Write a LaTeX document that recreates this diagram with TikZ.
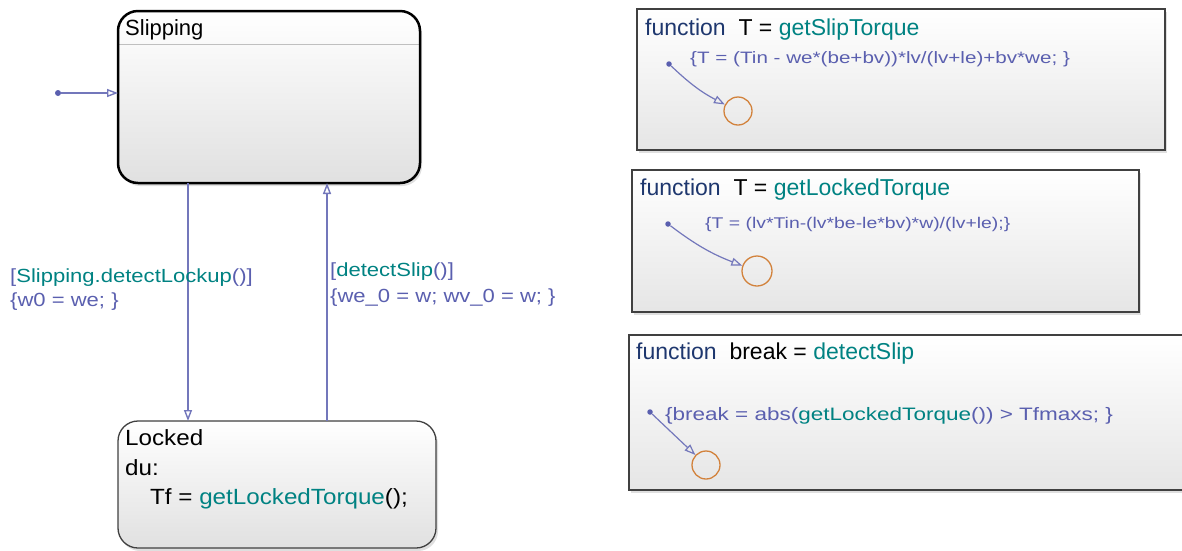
\documentclass[tikz,border=0pt]{standalone}
\usepackage{fontspec}
\setmainfont{Liberation Sans}
\newfontfamily\wideA[FakeStretch=1.1]{Liberation Sans}
\newfontfamily\wideB[FakeStretch=1.16]{Liberation Sans}
\newfontfamily\wideC[FakeStretch=1.25]{Liberation Sans}
\usetikzlibrary{arrows.meta,shadows}
\definecolor{sfblue}{RGB}{90,95,175}
\definecolor{sfteal}{RGB}{0,130,130}
\definecolor{sfdark}{RGB}{30,55,110}
\definecolor{sforange}{RGB}{210,130,60}
\tikzset{
  statebox/.style={rounded corners=20pt, top color=white, bottom color=black!12, drop shadow={opacity=0.25,shadow xshift=2pt,shadow yshift=-3pt}},
  funcbox/.style={draw=black!75, line width=1.3pt, top color=white, bottom color=black!10, drop shadow={opacity=0.25,shadow xshift=2pt,shadow yshift=-3pt}},
  trans/.style={draw=sfblue!85, line width=1.4pt, -{Triangle[open,length=11pt,width=8pt]}},
  junc/.style={circle, draw=sforange, line width=1.3pt, minimum size=28pt, inner sep=0pt},
  dotn/.style={circle, fill=sfblue, inner sep=0pt, minimum size=6pt},
  lbl/.style={anchor=base west, inner sep=0pt, font=\wideB\fontsize{19}{21}\selectfont, text=sfblue},
  ttl/.style={anchor=base west, inner sep=0pt, font=\fontsize{23}{25}\selectfont},
  stt/.style={anchor=base west, inner sep=0pt, font=\wideA\fontsize{22}{24}\selectfont},
  act/.style={anchor=base west, inner sep=0pt, font=\wideC\fontsize{16.5}{18}\selectfont, text=sfblue},
}
\begin{document}
\begin{tikzpicture}[x=1pt,y=-1pt]
\useasboundingbox (0,0) rectangle (1182,550);
% Slipping state
\path[statebox] (118,11) rectangle (420,183);
\draw[black!25, line width=1pt] (119,44) -- (419,44);
\draw[black, line width=2.5pt, rounded corners=20pt] (118,11) rectangle (420,183);
\node[stt, font=\fontsize{22}{24}\selectfont] (slipT) at (125,35) {Slipping};
% Locked state
\path[statebox] (118,421) rectangle (436,548);
\draw[black!75, line width=1.3pt, rounded corners=20pt] (118,421) rectangle (436,548);
\node[stt] (lockT) at (125,445) {Locked};
\node[stt] (du) at (125,475) {du:};
\node[stt] (tf) at (150,504) {Tf = \textcolor{sfteal}{getLockedTorque}();};
% named points
\coordinate (slipL) at (118,93);
\coordinate (slipB1) at (188,183);
\coordinate (slipB2) at (327,183);
\coordinate (lockT1) at (188,421);
\coordinate (lockT2) at (327,421);
\node[dotn] (init) at (58,93) {};
\draw[trans] (init) -- (slipL);
\draw[trans] (slipB1) -- (lockT1);
\draw[trans] (lockT2) -- (slipB2);
% labels
\node[lbl] (l1) at (10,282) {[\textcolor{sfteal}{Slipping.detectLockup}()]};
\node[lbl] (l2) at (10,306) {\{w0 = we; \}};
\node[lbl] (l3) at (330,276) {[\textcolor{sfteal}{detectSlip}()]};
\node[lbl] (l4) at (330,302) {\{we\_0 = w; wv\_0 = w; \}};
% function box 1
\path[funcbox] (637,9) rectangle (1165,150);
\node[ttl] (f1) at (645,35) {\textcolor{sfdark}{function}\ \ T = \textcolor{sfteal}{getSlipTorque}};
\node[act] (a1) at (690,63) {\{T = (Tin - we*(be+bv))*lv/(lv+le)+bv*we; \}};
\node[dotn, minimum size=5.5pt] (d1) at (669,64) {};
\node[junc] (c1) at (738,111) {};
\draw[trans, line width=1.2pt] (d1) to[bend right=8] (c1);
% function box 2
\path[funcbox] (632,170) rectangle (1139,312);
\node[ttl] (f2) at (640,195) {\textcolor{sfdark}{function}\ \ T = \textcolor{sfteal}{getLockedTorque}};
\node[act, font=\wideC\fontsize{15.5}{17}\selectfont] (a2) at (705,228) {\{T = (lv*Tin-(lv*be-le*bv)*w)/(lv+le);\}};
\node[dotn, minimum size=5.5pt] (d2) at (668,224) {};
\node[junc, minimum size=30pt] (c2) at (757,271) {};
\draw[trans, line width=1.2pt] (d2) to[bend right=8] (c2);
% function box 3
\path[funcbox] (629,335) rectangle (1190,490);
\node[ttl] (f3) at (636,359) {\textcolor{sfdark}{function}\ \ break = \textcolor{sfteal}{detectSlip}};
\node[act, font=\wideC\fontsize{18}{20}\selectfont] (a3) at (665,420) {\{break = abs(\textcolor{sfteal}{getLockedTorque}()) > Tfmaxs; \}};
\node[dotn, minimum size=5.5pt] (d3) at (650,412) {};
\node[junc] (c3) at (706,465) {};
\draw[trans, line width=1.2pt] (d3) -- (c3);
\end{tikzpicture}
\end{document}
